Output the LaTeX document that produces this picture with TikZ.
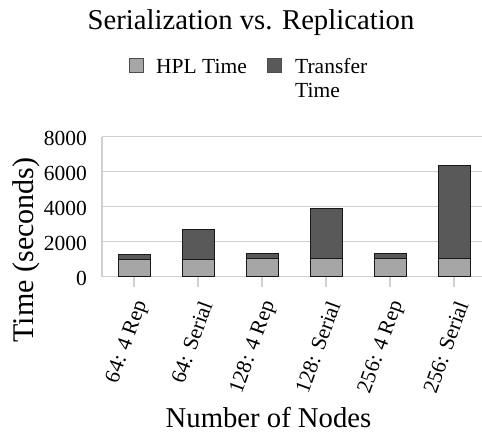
\documentclass[tikz,border=0pt]{standalone}
\usepackage{fontspec}
\setmainfont{Liberation Serif}
\usetikzlibrary{
  arrows.meta,
  positioning,
  calc
}
\definecolor{hpl}{RGB}{166,166,166}
\definecolor{xfer}{RGB}{89,89,89}
\definecolor{gridgray}{RGB}{208,208,208}

\begin{document}
\begin{tikzpicture}[
  x=1pt, y=-1pt,
  every node/.style={font=\fontsize{21.5}{24}\selectfont, inner sep=0pt},
  gridline/.style={draw=gridgray, line width=1.2pt},
  barpart/.style={draw=black!90, line width=0.9pt},
  keybox/.style={draw=black!70, line width=0.8pt, minimum size=14pt},
  bigtext/.style={font=\fontsize{28.7}{32}\selectfont},
  >=Stealth
]
\useasboundingbox (0,0) rectangle (482,432);

% title and legend
\node[bigtext, anchor=base] (title) at (251,29) {Serialization vs. Replication};
\node[keybox, fill=hpl] (hplkey) at (136,65) {};
\node[anchor=base west] (hpltext) at (156,73) {HPL Time};
\node[keybox, fill=xfer] (xferkey) at (274,65) {};
\node[anchor=base west] (xfertext) at (295,73) {Transfer};
\node[anchor=base west] (xfertime) at (295,97) {Time};

% grid and y axis
\foreach \v in {0,2000,4000,6000,8000} {
  \draw[gridline] (102,{276.7-\v*0.0175}) -- (482,{276.7-\v*0.0175});
  \node[anchor=east] (ytick\v) at (87,{278.2-\v*0.0175}) {\v};
}
\draw[gridline] (102,136.7) -- (102,276.7);

% stacked bars
\foreach \i/\hpltime/\total/\lab in {
    0/1000/1260/{64: 4 Rep},
    1/1000/2720/{64: Serial},
    2/1060/1350/{128: 4 Rep},
    3/1060/3920/{128: Serial},
    4/1060/1350/{256: 4 Rep},
    5/1060/6360/{256: Serial}} {
  \pgfmathsetmacro{\xc}{134+64*\i}
  \draw[gridline] (\xc,276.7) -- (\xc,287);
  \draw[barpart, fill=xfer] ({\xc-16},{276.7-\hpltime*0.0175}) rectangle ({\xc+16},{276.7-\total*0.0175});
  \draw[barpart, fill=hpl] ({\xc-16},276.7) rectangle ({\xc+16},{276.7-\hpltime*0.0175});
  \node[anchor=east, rotate=70] (lab\i) at ({\xc+8},302) {\lab};
}

% axis titles
\node[bigtext, font=\fontsize{30}{32}\selectfont, anchor=base, rotate=90] (ylabel) at (34,250) {Time (seconds)};
\node[bigtext, anchor=base] (xlabel) at (268.5,427) {Number of Nodes};

\end{tikzpicture}
\end{document}
